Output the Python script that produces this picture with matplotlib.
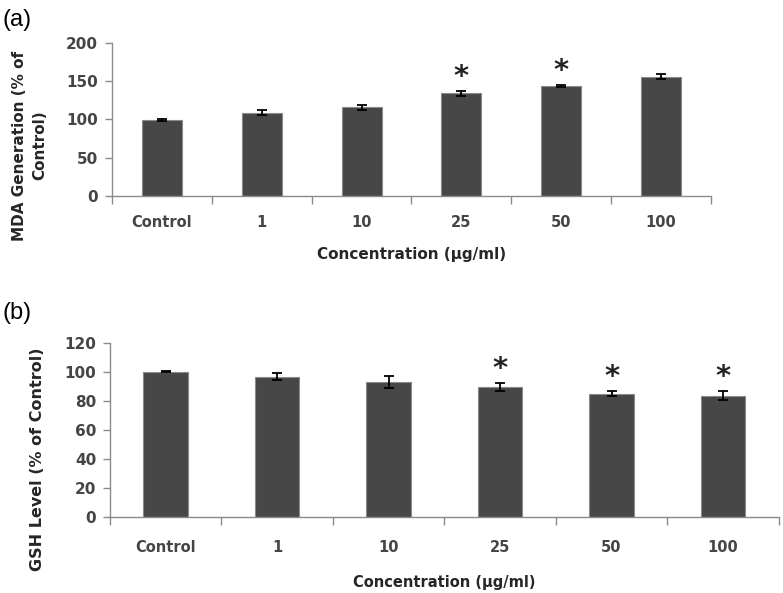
import numpy as np
import matplotlib
matplotlib.use("Agg")
import matplotlib.pyplot as plt

# Values
categories = ["Control", "1", "10", "25", "50", "100"]

mda_mean = [99, 109, 116, 134, 144, 156]
mda_err = [1, 3, 3.5, 3, 1.5, 3]
mda_star = [False, False, False, True, True, False]

gsh_mean = [100, 96.5, 93, 89.5, 85, 83.5]
gsh_err = [0.3, 2.5, 4, 3, 1.8, 3]
gsh_star = [False, False, False, True, True, True]

bar_face = "#474747"
bar_edge = "#8a8a8a"
axis_grey = "#8a8a8a"
tick_grey = "#454545"

plt.rcParams['font.family'] = ['DejaVu Sans']

fig = plt.figure(figsize=(7.83, 5.93), dpi=100)


def draw_panel(ax, means, errs, stars, ymax, ystep, xpad):
    x = np.arange(len(categories))
    ax.bar(x, means, width=0.4, color=bar_face, edgecolor=bar_edge,
           linewidth=0.8, zorder=2)
    ax.errorbar(x, means, yerr=errs, fmt='none', ecolor='black',
                elinewidth=1.3, capsize=3.5, capthick=1.3, zorder=3)
    for xi, m, e, s in zip(x, means, errs, stars):
        if s:
            ax.annotate("*", (xi, m + e), xytext=(0, 0),
                        textcoords='offset points', ha='center', va='bottom',
                        fontsize=21, fontweight='bold', color='#222222')

    ax.set_xlim(-0.5, len(categories) - 0.5)
    ax.set_ylim(0, ymax)
    ax.set_yticks(np.arange(0, ymax + 1, ystep))

    # category boundaries as ticks, labels in the middle
    ax.set_xticks(np.arange(-0.5, len(categories), 1.0))
    ax.set_xticklabels([])
    ax.set_xticks(x, minor=True)
    ax.set_xticklabels(categories, minor=True)
    ax.tick_params(axis='x', which='major', length=6, width=1,
                   color=axis_grey, direction='out')
    ax.tick_params(axis='x', which='minor', length=0, pad=xpad,
                   labelsize=10.5, labelcolor=tick_grey)
    ax.tick_params(axis='y', length=5, width=1, color=axis_grey,
                   labelsize=11, labelcolor=tick_grey, pad=5)
    for lab in ax.get_xticklabels(minor=True) + ax.get_yticklabels():
        lab.set_fontweight('bold')

    for side in ['top', 'right']:
        ax.spines[side].set_visible(False)
    for side in ['left', 'bottom']:
        ax.spines[side].set_color(axis_grey)
        ax.spines[side].set_linewidth(1)


# (a) MDA generation
ax1 = fig.add_axes([0.143, 0.6695, 0.765, 0.258])
draw_panel(ax1, mda_mean, mda_err, mda_star, 200, 50, 14)
ax1.set_xlabel("Concentration (\u00b5g/ml)", fontsize=11, fontweight='bold',
               color='#262626', labelpad=12)
ax1.set_ylabel("MDA Generation (% of\nControl)", fontsize=11,
               fontweight='bold', color='#262626', linespacing=1.45)
ax1.yaxis.set_label_coords(-0.108, 0.33)

# (b) GSH level
ax2 = fig.add_axes([0.1405, 0.1277, 0.854, 0.2946])
draw_panel(ax2, gsh_mean, gsh_err, gsh_star, 120, 20, 16.5)
ax2.set_xlabel("Concentration (\u00b5g/ml)", fontsize=10.5, fontweight='bold',
               color='#262626', labelpad=14.5)
ax2.set_ylabel("GSH Level (% of Control)", fontsize=11.5, fontweight='bold',
               color='#262626')
ax2.yaxis.set_label_coords(-0.097, 0.334)

fig.text(0.003, 0.985, "(a)", fontsize=17, family='Liberation Sans',
         va='top', ha='left')
fig.text(0.003, 0.49, "(b)", fontsize=17, family='Liberation Sans',
         va='top', ha='left')

fig.savefig("out.png", dpi=100)
